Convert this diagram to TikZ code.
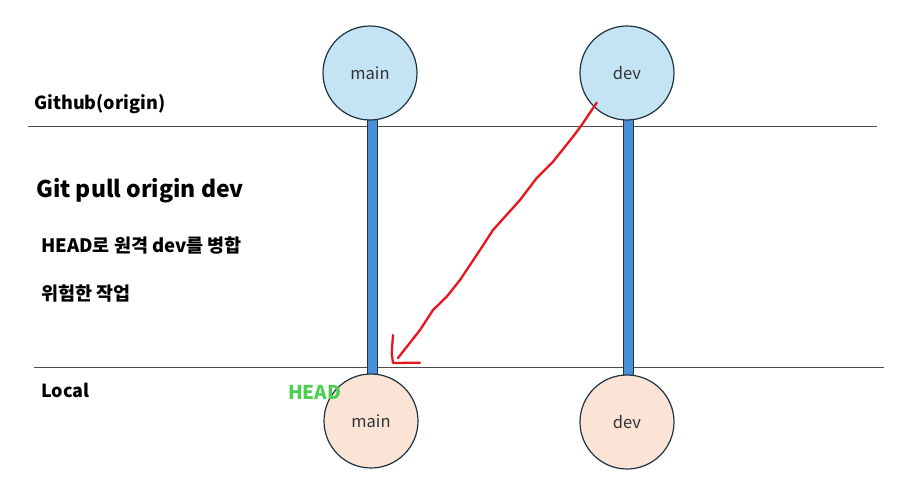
\documentclass[tikz,border=0pt]{standalone}
\usepackage{fontspec}
\setmainfont{Noto Sans CJK KR}
\definecolor{topfill}{HTML}{C4E4F4}
\definecolor{botfill}{HTML}{FBE3D5}
\definecolor{circedge}{HTML}{1E3444}
\definecolor{barblue}{HTML}{4A90D9}
\definecolor{headgreen}{HTML}{4CCF50}
\definecolor{redline}{HTML}{E8141E}
\begin{document}
\begin{tikzpicture}[x=1pt,y=-1pt,
  branch/.style={circle,draw=circedge,line width=1.2pt,minimum size=94pt,inner sep=0pt,font=\fontsize{16.5}{19}\selectfont,text=black!80},
  toppt/.style={branch,fill=topfill},
  botpt/.style={branch,fill=botfill},
  barstyle/.style={fill=barblue,draw=circedge,line width=0.8pt},
  sep/.style={draw=black!70,line width=0.9pt},
  pen/.style={redline,line width=2.3pt,line cap=round,line join=round},
  lbl/.style={anchor=west,inner sep=0pt,font=\bfseries\fontsize{18}{21}\selectfont}]
\useasboundingbox (0,0) rectangle (909,497);
% separators
\coordinate (l1a) at (28,126); \coordinate (l1b) at (877,126);
\coordinate (l2a) at (34,367); \coordinate (l2b) at (884,367);
\draw[sep] (l1a) -- (l1b);
\draw[sep] (l2a) -- (l2b);
% bars
\draw[barstyle] (367,116) rectangle (377,377);
\draw[barstyle] (623,116) rectangle (633,379);
% circles
\node[toppt] (tmain) at (370,73) {main};
\node[toppt] (tdev) at (627,73) {dev};
\node[botpt] (bmain) at (371,421) {main};
\node[botpt] (bdev) at (627,422) {dev};
% labels
\node[lbl] (gh) at (34,104) {Github(origin)};
\node[lbl,font=\bfseries\fontsize{23}{27}\selectfont] (cmd) at (36,191) {Git pull origin dev};
\node[lbl,font=\bfseries\fontsize{18.5}{22}\selectfont] (d1) at (41,246) {HEAD로 원격 dev를 병합};
\node[lbl,font=\bfseries\fontsize{18.5}{22}\selectfont] (d2) at (41,294) {위험한 작업};
\node[lbl] (loc) at (41,390) {Local};
\node[lbl,text=headgreen,font=\bfseries\fontsize{19}{22}\selectfont] (head) at (288,392) {HEAD};
% red freehand arrow
\coordinate (rs) at (596.7,102.7);
\coordinate (re) at (398,358);
\draw[pen]
  (rs) -- (581.7,125) -- (573,136.7) -- (553,161.7) -- (536.7,178) -- (520,200)
  -- (493,230) -- (480,250) -- (460,280) -- (446.7,296.7) -- (433,310)
  -- (420,330) -- (re);
\coordinate (h1) at (393,335);
\coordinate (h2) at (420,362.7);
\draw[pen] (h1) -- (391.7,353) -- (393,363) -- (h2);
\end{tikzpicture}
\end{document}
